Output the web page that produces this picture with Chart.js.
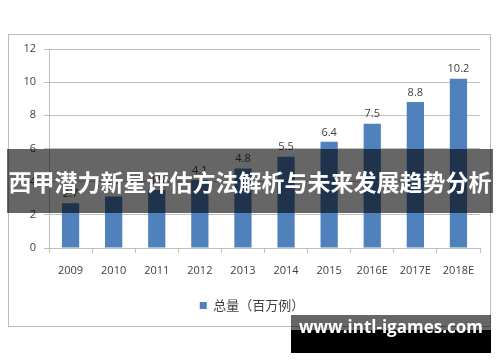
<!DOCTYPE html>
<html>
<head>
<meta charset="utf-8">
<script src="https://cdn.jsdelivr.net/npm/chart.js@4/dist/chart.umd.min.js"></script>
<style>
  html, body { margin: 0; padding: 0; background: #fff; }
  #wrap { position: relative; width: 500px; height: 362px; overflow: hidden; }
  #frame { position: absolute; left: 8px; top: 34px; width: 481px; height: 291px; border: 1px solid #bcbcbc; }
  #banner {
    position: absolute; left: 7px; top: 149px; width: 486px; height: 64px;
    background: rgba(0,0,0,0.6); color: #fff;
    font-family: "Noto Sans CJK SC", sans-serif; font-weight: bold; font-size: 23px;
    display: flex; align-items: center; justify-content: center; white-space: nowrap;
  }
  #mark { position: absolute; left: 291px; top: 315px; width: 200px; height: 38px; }
  #mark .top { position: absolute; left: 0; top: 0; width: 200px; height: 15px; background: rgba(0,0,0,0.6); }
  #mark .bot { position: absolute; left: 0; top: 15px; width: 200px; height: 23px; background: #000; }
  #mark .txt {
    position: absolute; left: 0; top: 0; width: 200px; height: 38px; line-height: 40px;
    text-align: center; color: #fff; font: bold 17px "Open Sans", sans-serif;
  }
</style>
</head>
<body>
<div id="wrap">
  <div id="frame"></div>
  <canvas id="chart" width="500" height="362"></canvas>
  <div id="banner">西甲潜力新星评估方法解析与未来发展趋势分析</div>
  <div id="mark"><div class="top"></div><div class="bot"></div><div class="txt">www.intl-igames.com</div></div>
</div>
<script>
const years = ['2009', '2010', '2011', '2012', '2013', '2014', '2015', '2016E', '2017E', '2018E']
const totals = [2.7, 3.1, 3.5, 4.1, 4.8, 5.5, 6.4, 7.5, 8.8, 10.2]
const seriesName = '总量（百万例）'
const yTicks = [0, 2, 4, 6, 8, 10, 12]

const textColor = '#404040'
const gridColor = '#bfbfbf'

// labels above each bar
const barLabels = {
    id: 'barLabels',
    afterDatasetsDraw(chart) {
        const ctx = chart.ctx
        const meta = chart.getDatasetMeta(0)
        ctx.save()
        ctx.fillStyle = textColor
        ctx.font = '11px "Open Sans", sans-serif'
        ctx.textAlign = 'center'
        ctx.textBaseline = 'bottom'
        meta.data.forEach((bar, i) => {
            ctx.fillText(totals[i].toFixed(1), bar.x, bar.y - 4)
        })
        ctx.restore()
    }
}

// legend sits a bit right of the chart centre
const shiftLegend = {
    id: 'shiftLegend',
    afterLayout(chart) {
        chart.legend.left += 12
        chart.legend.right += 12
    }
}

const canvas = document.getElementById('chart')
const ctx = canvas.getContext('2d')

const data = {
    labels: years,
    datasets: [{
        label: seriesName,
        data: totals,
        backgroundColor: '#4f81bd',
        borderWidth: 0,
        categoryPercentage: 1,
        barPercentage: 0.4
    }]
}

new Chart(ctx, {
    type: 'bar',
    data: data,
    options: {
        responsive: false,
        animation: false,
        layout: { padding: { left: 0, right: 20, top: 49, bottom: 40 } },
        plugins: {
            tooltip: { enabled: false },
            legend: {
                position: 'bottom',
                labels: {
                    boxWidth: 7,
                    boxHeight: 7,
                    padding: 10,
                    color: textColor,
                    font: { family: '"Noto Sans CJK SC", sans-serif', size: 13 }
                }
            }
        },
        scales: {
            x: {
                afterFit: (s) => { s.height = 41 },
                grid: { offset: true, drawOnChartArea: false, tickLength: 5, color: gridColor },
                border: { color: gridColor },
                ticks: { color: textColor, padding: 11, font: { family: '"Open Sans", sans-serif', size: 11 } }
            },
            y: {
                min: 0,
                max: 12,
                afterFit: (s) => { s.width = 49 },
                afterBuildTicks: (s) => { s.ticks = yTicks.map(v => ({ value: v })) },
                grid: { color: gridColor, tickLength: 5 },
                border: { color: gridColor },
                ticks: { color: textColor, padding: 8, font: { family: '"Open Sans", sans-serif', size: 11 } }
            }
        }
    },
    plugins: [barLabels, shiftLegend]
})
</script>
</body>
</html>
